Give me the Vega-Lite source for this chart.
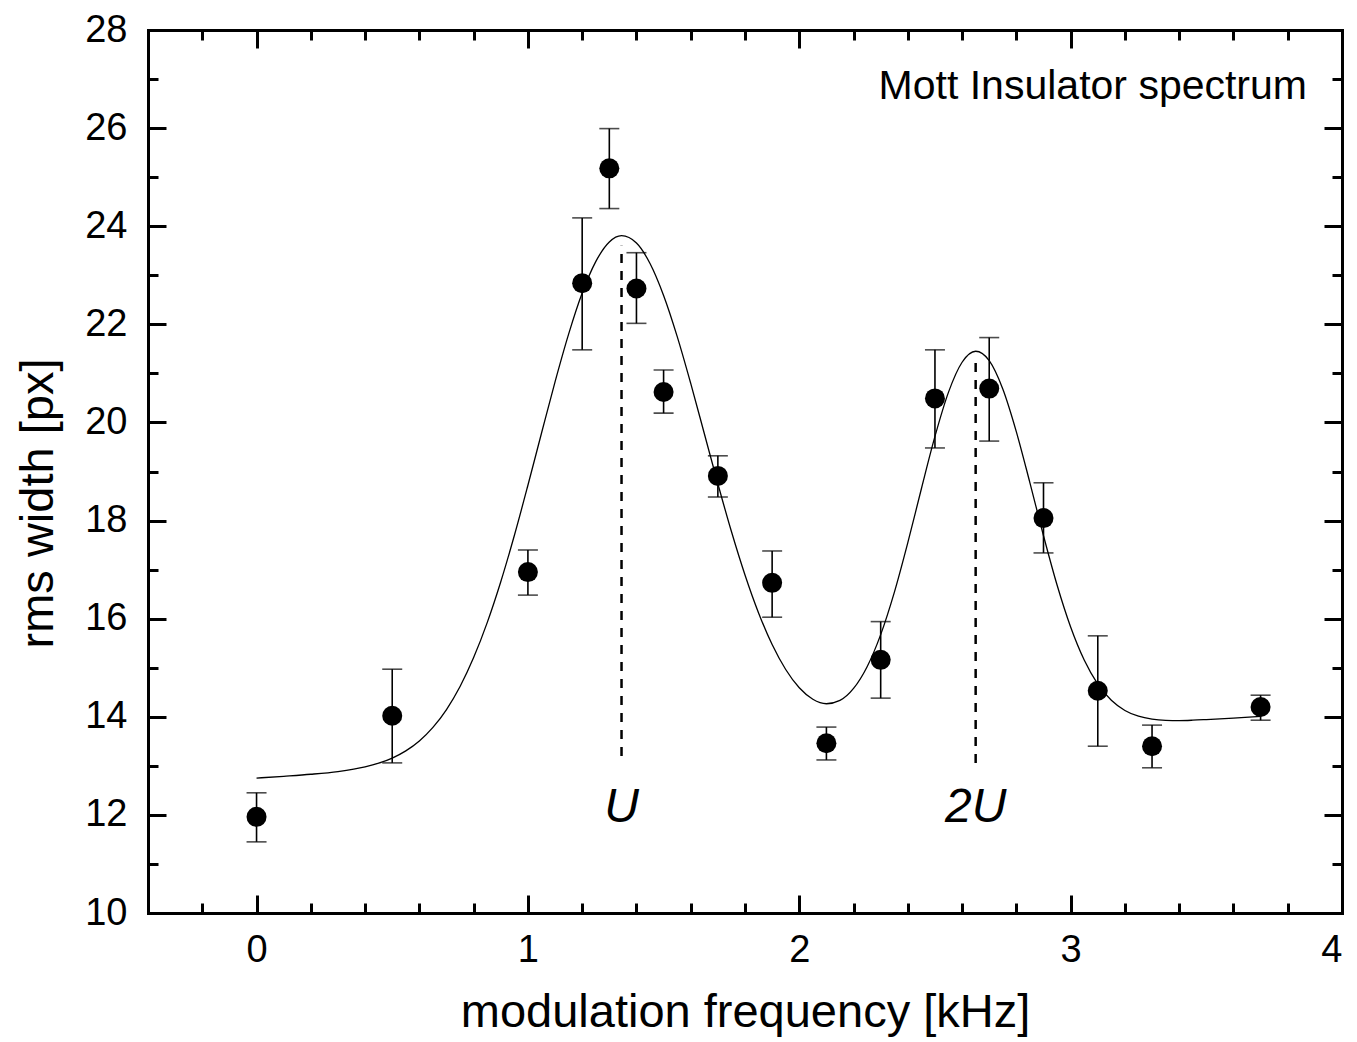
{
  "$schema": "https://vega.github.io/schema/vega-lite/v6.json",
  "width": 1194,
  "height": 883,
  "autosize": {"type": "none"},
  "padding": {"left": 148, "top": 30, "right": 15, "bottom": 129},
  "background": "white",
  "config": {
    "view": {"stroke": null},
    "font": "Liberation Sans",
    "axis": {
      "grid": false,
      "domainColor": "black",
      "domainWidth": 3,
      "domainCap": "square",
      "tickColor": "black",
      "tickWidth": 3,
      "labelColor": "black",
      "labelFont": "Liberation Sans",
      "labelFontSize": 38,
      "titleColor": "black",
      "titleFont": "Liberation Sans",
      "titleFontSize": 47,
      "titleFontWeight": "normal"
    }
  },
  "datasets": {
    "pts": [
      {"f": 0, "w": 11.96, "lo": 11.45, "hi": 12.45},
      {"f": 0.5, "w": 14.02, "lo": 13.06, "hi": 14.97},
      {"f": 1.0, "w": 16.95, "lo": 16.48, "hi": 17.4},
      {"f": 1.2, "w": 22.84, "lo": 21.48, "hi": 24.17},
      {"f": 1.3, "w": 25.18, "lo": 24.36, "hi": 25.99},
      {"f": 1.4, "w": 22.73, "lo": 22.02, "hi": 23.46},
      {"f": 1.5, "w": 20.62, "lo": 20.19, "hi": 21.07},
      {"f": 1.7, "w": 18.91, "lo": 18.48, "hi": 19.32},
      {"f": 1.9, "w": 16.73, "lo": 16.03, "hi": 17.38},
      {"f": 2.1, "w": 13.46, "lo": 13.12, "hi": 13.79},
      {"f": 2.3, "w": 15.16, "lo": 14.38, "hi": 15.94},
      {"f": 2.5, "w": 20.49, "lo": 19.48, "hi": 21.48},
      {"f": 2.7, "w": 20.69, "lo": 19.62, "hi": 21.73},
      {"f": 2.9, "w": 18.05, "lo": 17.34, "hi": 18.77},
      {"f": 3.1, "w": 14.53, "lo": 13.4, "hi": 15.65},
      {"f": 3.3, "w": 13.4, "lo": 12.96, "hi": 13.83},
      {"f": 3.7, "w": 14.2, "lo": 13.93, "hi": 14.44}
    ],
    "fit": [
      {"f": 0, "w": 12.75}, {"f": 0.1, "w": 12.787}, {"f": 0.2, "w": 12.828},
      {"f": 0.3, "w": 12.884}, {"f": 0.4, "w": 12.978}, {"f": 0.45, "w": 13.053},
      {"f": 0.5, "w": 13.158}, {"f": 0.55, "w": 13.305}, {"f": 0.6, "w": 13.507},
      {"f": 0.65, "w": 13.783}, {"f": 0.7, "w": 14.148}, {"f": 0.75, "w": 14.617},
      {"f": 0.8, "w": 15.206}, {"f": 0.85, "w": 15.919}, {"f": 0.9, "w": 16.753},
      {"f": 0.95, "w": 17.695}, {"f": 1.0, "w": 18.719}, {"f": 1.05, "w": 19.779},
      {"f": 1.1, "w": 20.828}, {"f": 1.15, "w": 21.8}, {"f": 1.2, "w": 22.637},
      {"f": 1.25, "w": 23.278}, {"f": 1.3, "w": 23.679}, {"f": 1.345, "w": 23.807},
      {"f": 1.4, "w": 23.657}, {"f": 1.45, "w": 23.24}, {"f": 1.5, "w": 22.588},
      {"f": 1.55, "w": 21.754}, {"f": 1.6, "w": 20.795}, {"f": 1.65, "w": 19.774},
      {"f": 1.7, "w": 18.751}, {"f": 1.75, "w": 17.776}, {"f": 1.8, "w": 16.89},
      {"f": 1.85, "w": 16.117}, {"f": 1.9, "w": 15.473}, {"f": 1.95, "w": 14.964},
      {"f": 2.0, "w": 14.591}, {"f": 2.05, "w": 14.357}, {"f": 2.1, "w": 14.266},
      {"f": 2.15, "w": 14.334}, {"f": 2.2, "w": 14.578}, {"f": 2.25, "w": 15.021},
      {"f": 2.3, "w": 15.675}, {"f": 2.35, "w": 16.531}, {"f": 2.4, "w": 17.55},
      {"f": 2.45, "w": 18.649}, {"f": 2.5, "w": 19.715}, {"f": 2.55, "w": 20.618},
      {"f": 2.6, "w": 21.227}, {"f": 2.65, "w": 21.451}, {"f": 2.7, "w": 21.259},
      {"f": 2.75, "w": 20.682}, {"f": 2.8, "w": 19.809}, {"f": 2.85, "w": 18.769},
      {"f": 2.9, "w": 17.691}, {"f": 2.95, "w": 16.686}, {"f": 3.0, "w": 15.83},
      {"f": 3.05, "w": 15.157}, {"f": 3.1, "w": 14.667}, {"f": 3.15, "w": 14.337},
      {"f": 3.2, "w": 14.129}, {"f": 3.25, "w": 14.011}, {"f": 3.3, "w": 13.951},
      {"f": 3.35, "w": 13.927}, {"f": 3.4, "w": 13.923}, {"f": 3.45, "w": 13.93},
      {"f": 3.5, "w": 13.943}, {"f": 3.6, "w": 13.974}, {"f": 3.7, "w": 14.008}
    ],
    "peaks": [
      {"f": 1.345, "lo": 13.2, "hi": 23.6, "label": "U"},
      {"f": 2.65, "lo": 13.06, "hi": 21.27, "label": "2U"}
    ],
    "note": [
      {"f": 3.871, "w": 26.6, "label": "Mott Insulator spectrum"}
    ]
  },
  "layer": [
    {
      "data": {"name": "fit"},
      "mark": {"type": "line", "color": "black", "strokeWidth": 1.3, "interpolate": "monotone"},
      "encoding": {
        "x": {
          "field": "f", "type": "quantitative",
          "scale": {"domain": [-0.4, 4], "nice": false, "zero": false},
          "axis": {
            "orient": "bottom", "values": [0, 1, 2, 3, 4], "tickSize": -18,
            "labelPadding": 36, "labelBaseline": "top",
            "title": "modulation frequency [kHz]", "titleY": 113, "titleBaseline": "alphabetic"
          }
        },
        "y": {
          "field": "w", "type": "quantitative",
          "scale": {"domain": [10, 28], "nice": false, "zero": false},
          "axis": {
            "orient": "left", "values": [10, 12, 14, 16, 18, 20, 22, 24, 26, 28], "tickSize": -18,
            "labelPadding": 39, "labelBaseline": "middle",
            "title": "rms width [px]", "titleX": -96, "titleY": 473, "titleAngle": -90,
            "titleAlign": "center", "titleBaseline": "alphabetic"
          }
        }
      }
    },
    {
      "data": {"name": "pts"},
      "mark": {"type": "errorbar", "color": "black", "ticks": {"size": 20, "thickness": 1.6}, "rule": {"strokeWidth": 1.6}},
      "encoding": {
        "x": {
          "field": "f", "type": "quantitative",
          "scale": {"domain": [-0.4, 4], "nice": false, "zero": false},
          "axis": {
            "orient": "bottom", "values": [-0.2, 0.2, 0.4, 0.6, 0.8, 1.2, 1.4, 1.6, 1.8, 2.2, 2.4, 2.6, 2.8, 3.2, 3.4, 3.6, 3.8],
            "tickSize": -10, "labels": false, "domain": false, "title": null
          }
        },
        "y": {
          "field": "lo", "type": "quantitative",
          "scale": {"domain": [10, 28], "nice": false, "zero": false},
          "axis": {
            "orient": "left", "values": [11, 13, 15, 17, 19, 21, 23, 25, 27],
            "tickSize": -10, "labels": false, "domain": false, "title": null
          }
        },
        "y2": {"field": "hi"}
      }
    },
    {
      "data": {"name": "pts"},
      "mark": {"type": "circle", "color": "black", "opacity": 1, "size": 400},
      "encoding": {
        "x": {
          "field": "f", "type": "quantitative",
          "scale": {"domain": [-0.4, 4], "nice": false, "zero": false},
          "axis": {
            "orient": "top", "values": [0, 1, 2, 3, 4], "tickSize": -18,
            "labels": false, "title": null
          }
        },
        "y": {
          "field": "w", "type": "quantitative",
          "scale": {"domain": [10, 28], "nice": false, "zero": false},
          "axis": {
            "orient": "right", "values": [10, 12, 14, 16, 18, 20, 22, 24, 26, 28], "tickSize": -18,
            "labels": false, "title": null
          }
        }
      }
    },
    {
      "data": {"name": "peaks"},
      "mark": {"type": "rule", "color": "black", "strokeWidth": 2.5, "strokeDash": [9, 8]},
      "encoding": {
        "x": {
          "field": "f", "type": "quantitative",
          "scale": {"domain": [-0.4, 4], "nice": false, "zero": false},
          "axis": {
            "orient": "top", "values": [-0.2, 0.2, 0.4, 0.6, 0.8, 1.2, 1.4, 1.6, 1.8, 2.2, 2.4, 2.6, 2.8, 3.2, 3.4, 3.6, 3.8],
            "tickSize": -10, "labels": false, "domain": false, "title": null
          }
        },
        "y": {
          "field": "lo", "type": "quantitative",
          "scale": {"domain": [10, 28], "nice": false, "zero": false},
          "axis": {
            "orient": "right", "values": [11, 13, 15, 17, 19, 21, 23, 25, 27],
            "tickSize": -10, "labels": false, "domain": false, "title": null
          }
        },
        "y2": {"field": "hi"}
      }
    },
    {
      "data": {"name": "peaks"},
      "mark": {"type": "text", "color": "black", "font": "Liberation Sans", "fontSize": 48, "fontStyle": "italic", "align": "center", "baseline": "alphabetic"},
      "encoding": {
        "x": {"field": "f", "type": "quantitative", "scale": {"domain": [-0.4, 4], "nice": false, "zero": false}, "axis": null},
        "y": {"datum": 11.855, "type": "quantitative", "scale": {"domain": [10, 28], "nice": false, "zero": false}, "axis": null},
        "text": {"field": "label"}
      }
    },
    {
      "data": {"name": "note"},
      "mark": {"type": "text", "color": "black", "font": "Liberation Sans", "fontSize": 41, "align": "right", "baseline": "alphabetic"},
      "encoding": {
        "x": {"field": "f", "type": "quantitative", "scale": {"domain": [-0.4, 4], "nice": false, "zero": false}, "axis": null},
        "y": {"field": "w", "type": "quantitative", "scale": {"domain": [10, 28], "nice": false, "zero": false}, "axis": null},
        "text": {"field": "label"}
      }
    }
  ],
  "resolve": {"axis": {"x": "independent", "y": "independent"}}
}
